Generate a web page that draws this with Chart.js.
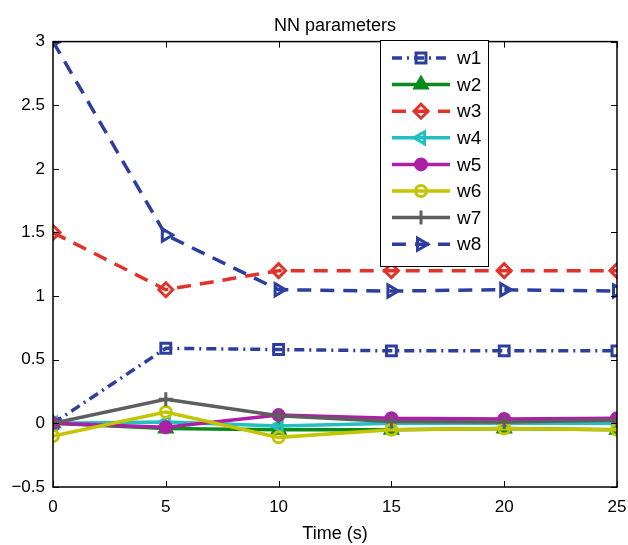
<!DOCTYPE html>
<html>
<head>
<meta charset="utf-8">
<script src="https://cdn.jsdelivr.net/npm/chart.js@4/dist/chart.umd.min.js"></script>
<style>
  html, body { margin: 0; padding: 0; background: #fff; }
  #wrap { width: 628px; height: 545px; }
</style>
</head>
<body>
<div id="wrap"><canvas id="chart" width="628" height="545"></canvas></div>
<script>
const times = [0, 5, 10, 15, 20, 25];
const w1 = [0, 0.59, 0.58, 0.57, 0.57, 0.57];
const w2 = [0, -0.04, -0.05, -0.05, -0.04, -0.05];
const w3 = [1.5, 1.05, 1.2, 1.2, 1.2, 1.2];
const w4 = [0, 0.01, -0.02, 0.0, 0.0, 0.0];
const w5 = [0, -0.03, 0.065, 0.04, 0.035, 0.04];
const w6 = [-0.1, 0.09, -0.11, -0.05, -0.04, -0.05];
const w7 = [0, 0.19, 0.06, 0.015, 0.01, 0.025];
const w8 = [3, 1.48, 1.05, 1.04, 1.05, 1.04];
const yTicks = [-0.5, 0, 0.5, 1, 1.5, 2, 2.5, 3];
const xTicks = [0, 5, 10, 15, 20, 25];

const BLUE = '#2c3f9f';
const FONT = '"Liberation Sans", Arial, sans-serif';

// name, values, colour, dash, marker, rotation, filled
const series = [
  ['w1', w1, BLUE, [10, 5, 2, 5], 'rect', 0, false],
  ['w2', w2, '#0a8a1a', [], 'triangle', 0, true],
  ['w3', w3, '#e2332b', [14, 9], 'rectRot', 0, false],
  ['w4', w4, '#22c0c0', [], 'triangle', -90, false],
  ['w5', w5, '#ad20a6', [], 'circle', 0, true],
  ['w6', w6, '#c4c400', [], 'circle', 0, false],
  ['w7', w7, '#5e5e5e', [], 'cross', 0, false],
  ['w8', w8, BLUE, [14, 9], 'triangle', 90, false],
];

function markerRadius(style) {
  return style === 'circle' ? 5.5 : 7;
}

const datasets = series.map(([name, vals, color, dash, marker, rot, filled], i) => ({
  label: name,
  data: times.map((t, k) => ({ x: t, y: vals[k] })),
  borderColor: color,
  backgroundColor: color,
  borderWidth: 3.5,
  borderDash: dash,
  pointStyle: marker,
  pointRotation: rot,
  pointRadius: markerRadius(marker),
  pointBorderWidth: 3,
  pointBorderColor: color,
  pointBackgroundColor: filled ? color : 'rgba(0,0,0,0)',
  tension: 0,
  order: 7 - i,
}));

// box round the plot with inward ticks, like MATLAB axes
const boxPlugin = {
  id: 'box',
  afterDatasetsDraw(c) {
    const { ctx, chartArea: a, scales } = c;
    ctx.save();
    ctx.strokeStyle = '#000';
    ctx.lineWidth = 1.5;
    ctx.setLineDash([]);
    ctx.strokeRect(a.left, a.top, a.right - a.left, a.bottom - a.top);
    ctx.lineWidth = 1;
    ctx.beginPath();
    for (const v of xTicks) {
      const x = Math.round(scales.x.getPixelForValue(v)) + 0.5;
      ctx.moveTo(x, a.bottom); ctx.lineTo(x, a.bottom - 6);
      ctx.moveTo(x, a.top); ctx.lineTo(x, a.top + 6);
    }
    for (const v of yTicks) {
      const y = Math.round(scales.y.getPixelForValue(v)) + 0.5;
      ctx.moveTo(a.left, y); ctx.lineTo(a.left + 6, y);
      ctx.moveTo(a.right, y); ctx.lineTo(a.right - 6, y);
    }
    ctx.stroke();
    ctx.restore();
  },
};

// legend drawn inside the plot, top right
const legendPlugin = {
  id: 'insideLegend',
  afterDraw(c) {
    const ctx = c.ctx;
    const x0 = 380, y0 = 40, w = 108, h = 226, step = 26.6;
    ctx.save();
    ctx.fillStyle = '#fff';
    ctx.fillRect(x0, y0, w, h);
    ctx.strokeStyle = '#000';
    ctx.lineWidth = 1;
    ctx.strokeRect(x0 + 0.5, y0 + 0.5, w, h);
    ctx.font = '19px ' + FONT;
    ctx.textBaseline = 'middle';
    ctx.fillStyle = '#000';
    c.data.datasets.forEach((d, i) => {
      const y = y0 + 18 + i * step;
      ctx.save();
      ctx.strokeStyle = d.borderColor;
      ctx.lineWidth = d.borderWidth;
      ctx.setLineDash(d.borderDash);
      ctx.beginPath();
      ctx.moveTo(392, y); ctx.lineTo(450, y);
      ctx.stroke();
      ctx.setLineDash([]);
      ctx.fillStyle = d.pointBackgroundColor;
      ctx.strokeStyle = d.pointBorderColor;
      ctx.lineWidth = d.pointBorderWidth;
      Chart.helpers.drawPoint(ctx, {
        pointStyle: d.pointStyle, rotation: d.pointRotation,
        radius: d.pointRadius, borderWidth: d.pointBorderWidth,
      }, 421, y);
      ctx.restore();
      ctx.fillText(d.label, 457, y + 1);
    });
    ctx.restore();
  },
};

new Chart(document.getElementById('chart'), {
  type: 'line',
  data: { datasets },
  plugins: [boxPlugin, legendPlugin],
  options: {
    responsive: false,
    animation: false,
    layout: { padding: { left: 0, right: 11, top: 0, bottom: 0 } },
    plugins: {
      legend: { display: false },
      tooltip: { enabled: false },
      title: {
        display: true, text: 'NN parameters', color: '#000', fullSize: false,
        font: { family: FONT, size: 18, weight: 'normal' },
        padding: { top: 15, bottom: 5 },
      },
    },
    scales: {
      x: {
        type: 'linear', min: 0, max: 25,
        grid: { display: false, drawTicks: false },
        border: { display: false },
        afterBuildTicks: (s) => { s.ticks = xTicks.map((v) => ({ value: v })); },
        afterFit: (s) => { s.height = 58; s.paddingLeft = 0; s.paddingRight = 0; },
        ticks: { color: '#000', padding: 10, maxRotation: 0, font: { family: FONT, size: 17 } },
        title: {
          display: true, text: 'Time (s)', color: '#000',
          font: { family: FONT, size: 18 }, padding: { top: 4, bottom: 0 },
        },
      },
      y: {
        min: -0.5, max: 3,
        grid: { display: false, drawTicks: false },
        border: { display: false },
        afterBuildTicks: (s) => { s.ticks = yTicks.map((v) => ({ value: v })); },
        afterFit: (s) => { s.width = 53; },
        ticks: {
          color: '#000', padding: 8, font: { family: FONT, size: 17 },
          callback: (v) => String(v).replace('-', '\u2212'),
        },
      },
    },
  },
});
</script>
</body>
</html>
